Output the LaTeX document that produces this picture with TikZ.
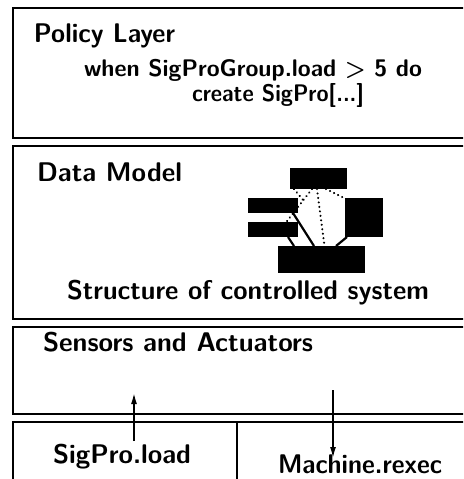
\documentclass[tikz,border=0pt]{standalone}
\usepackage{graphicx}
\usetikzlibrary{arrows.meta}
\newlength\fitlen
\newcommand\fitto[2]{\settowidth\fitlen{#2}\pgfmathsetmacro\fitscale{#1/\fitlen}\scalebox{\fitscale}[1]{#2}}
\tikzset{
  layer/.style={draw=black, line width=2pt},
  lbl/.style={inner sep=0pt, outer sep=0pt, anchor=base west, font=\sffamily\bfseries\fontsize{27}{30}\selectfont},
  code/.style={lbl, font=\sffamily\bfseries\fontsize{24}{27}\selectfont},
  blk/.style={fill=black, draw=none, inner sep=0pt, outer sep=0pt},
  solidlink/.style={line width=2.2pt},
  dotlink/.style={line width=2.3pt, dash pattern=on 0.01pt off 4.5pt, line cap=round},
  arr/.style={line width=1.6pt, -{Latex[length=11pt,width=6pt]}}
}
\begin{document}
\begin{tikzpicture}[x=1pt,y=-1pt]
\useasboundingbox (0,0) rectangle (463,479);
\clip (0,0) rectangle (463,479);
\fill[white] (0,0) rectangle (463,479);
% layers
\draw[layer] (470,8) -- (12.5,8) -- (12.5,138) -- (470,138);
\draw[layer] (470,146) -- (12.5,146) -- (12.5,319) -- (470,319);
\draw[layer] (470,327) -- (12.5,327) -- (12.5,414) -- (470,414);
\draw[layer] (470,421.5) -- (12.5,421.5) -- (12.5,485);
\draw[layer] (237,421.5) -- (237,485);
% texts
\node[lbl] (pol) at (34,42) {\fitto{141}{Policy Layer}};
\node[code] (when) at (84,76) {\fitto{338}{when SigProGroup.load > 5 do}};
\node[code] (create) at (192,101) {\fitto{172}{create SigPro[...]}};
\node[lbl] (dm) at (37,181) {\fitto{145}{Data Model}};
\node[lbl] (struct) at (67,299) {\fitto{362}{Structure of controlled system}};
\node[lbl] (sens) at (43,351) {\fitto{270}{Sensors and Actuators}};
\node[lbl] (sigload) at (53,463) {\fitto{138}{SigPro.load}};
\node[lbl] (mrexec) at (278,473) {\fitto{164}{Machine.rexec}};
% structure blocks
\node[blk, minimum width=57pt, minimum height=21pt] (tb) at (318.5,178.5) {};
\node[blk, minimum width=50pt, minimum height=15pt] (lu) at (273,205.5) {};
\node[blk, minimum width=50pt, minimum height=15pt] (ll) at (273,229.5) {};
\node[blk, minimum width=38pt, minimum height=39pt] (rb) at (364,217.5) {};
\node[blk, minimum width=87pt, minimum height=27pt] (bb) at (321.5,259.5) {};
% links
\draw[dotlink] ([xshift=4pt]tb.south west) -- ([xshift=5pt,yshift=-2pt]lu.north east);
\draw[dotlink] ([xshift=22pt]tb.south west) -- ([xshift=-14pt,yshift=-3pt]ll.north east);
\draw[dotlink] ([xshift=-1.5pt]tb.south) -- ([xshift=3pt]bb.north);
\draw[dotlink] ([xshift=-21pt]tb.south east) -- ([xshift=1pt,yshift=-1pt]rb.north west);
\draw[solidlink] ([xshift=-5pt]lu.south east) -- ([xshift=36pt]bb.north west);
\draw[solidlink] ([xshift=-10pt]ll.south east) -- ([xshift=16pt]bb.north west);
\draw[solidlink] ([xshift=2pt]rb.south west) -- ([xshift=-29pt]bb.north east);
\fill[black] (lu.north west) rectangle (lu.south east);
\fill[black] (ll.north west) rectangle (ll.south east);
% arrows
\coordinate (upfrom) at (134,441);
\coordinate (upto) at (134,393);
\coordinate (dnfrom) at (333,390);
\coordinate (dnto) at (333,458);
\draw[arr] (upfrom) -- (upto);
\draw[arr] (dnfrom) -- (dnto);
\end{tikzpicture}
\end{document}
